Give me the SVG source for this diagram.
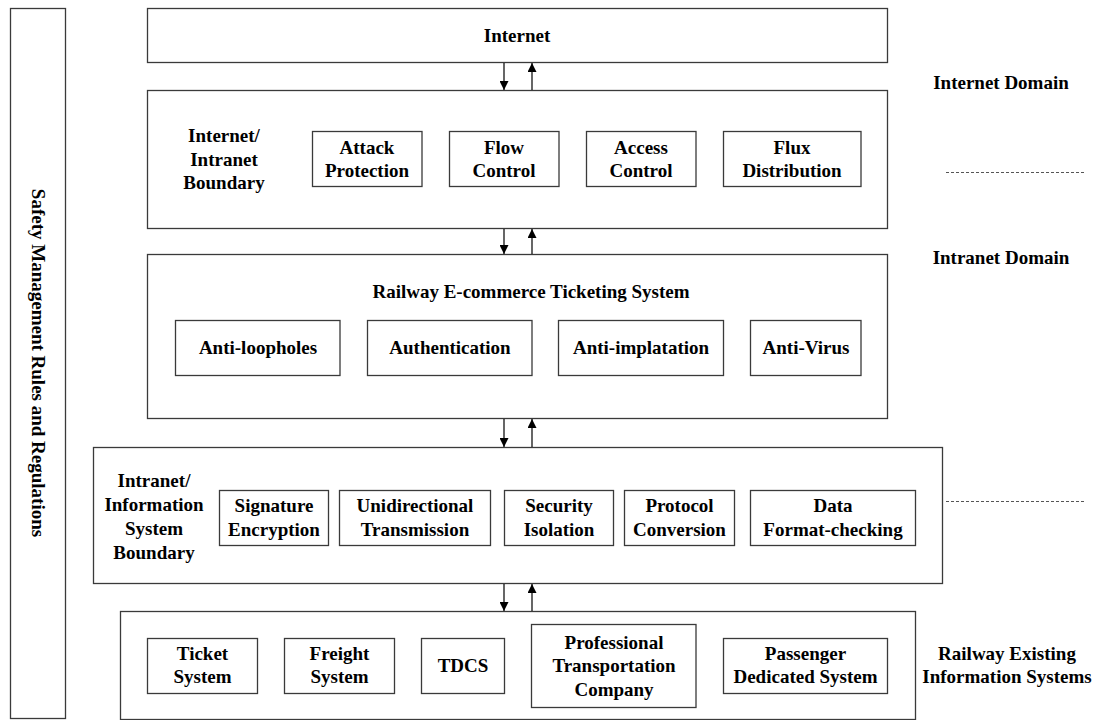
<svg xmlns="http://www.w3.org/2000/svg" width="1102" height="720" viewBox="0 0 1102 720">
<defs>
<style>
.box{fill:#fff;stroke:#3a3a3a;stroke-width:1.3}
.t{font-family:"Liberation Serif","Times New Roman",serif;font-weight:bold;font-size:19px;fill:#000;text-anchor:middle}
.conn{stroke:#000;stroke-width:1.2;fill:none}
.dash{stroke:#555;stroke-width:1;stroke-dasharray:3 2;fill:none}
</style>
<marker id="ah" viewBox="0 0 10 10" refX="10" refY="5" markerWidth="9" markerHeight="9" markerUnits="userSpaceOnUse" orient="auto">
<path d="M0,0 L10,5 L0,10 z" fill="#000"/>
</marker>
</defs>
<rect width="1102" height="720" fill="#fff"/>

<g id="safety">
<rect class="box" x="10.5" y="8.5" width="55" height="710" stroke="#555"/>
<text class="t" transform="translate(32,363) rotate(90)">Safety Management Rules and Regulations</text>
</g>

<g id="internet">
<rect class="box" x="147.5" y="8.5" width="740" height="54"/>
<text class="t" x="517" y="41.5">Internet</text>
</g>

<g id="boundary1">
<rect class="box" x="147.5" y="90.5" width="740" height="138"/>
<text class="t" x="224" y="142">Internet/</text>
<text class="t" x="224" y="165.5">Intranet</text>
<text class="t" x="224" y="189">Boundary</text>
</g>
<g id="attack-protection"><rect class="box" x="312.5" y="131.5" width="109.5" height="55"/><text class="t" x="367" y="153.5">Attack</text><text class="t" x="367" y="176.5">Protection</text></g>
<g id="flow-control"><rect class="box" x="449.5" y="131.5" width="109.5" height="55"/><text class="t" x="504" y="153.5">Flow</text><text class="t" x="504" y="176.5">Control</text></g>
<g id="access-control"><rect class="box" x="586.5" y="131.5" width="109.5" height="55"/><text class="t" x="641" y="153.5">Access</text><text class="t" x="641" y="176.5">Control</text></g>
<g id="flux-distribution"><rect class="box" x="723.5" y="131.5" width="137.5" height="55"/><text class="t" x="792" y="153.5">Flux</text><text class="t" x="792" y="176.5">Distribution</text></g>

<g id="ticketing">
<rect class="box" x="147.5" y="254.5" width="740" height="164"/>
<text class="t" x="531" y="297.5">Railway E-commerce Ticketing System</text>
</g>
<g id="anti-loopholes"><rect class="box" x="175.5" y="320.5" width="164.5" height="55"/><text class="t" x="258" y="354">Anti-loopholes</text></g>
<g id="authentication"><rect class="box" x="367.5" y="320.5" width="164.5" height="55"/><text class="t" x="450" y="354">Authentication</text></g>
<g id="anti-implatation"><rect class="box" x="558.5" y="320.5" width="165" height="55"/><text class="t" x="641" y="354">Anti-implatation</text></g>
<g id="anti-virus"><rect class="box" x="750.5" y="320.5" width="110.5" height="55"/><text class="t" x="806" y="354">Anti-Virus</text></g>

<g id="boundary2">
<rect class="box" x="93.5" y="447.5" width="849" height="136"/>
<text class="t" x="154" y="487">Intranet/</text>
<text class="t" x="154" y="511">Information</text>
<text class="t" x="154" y="535">System</text>
<text class="t" x="154" y="559">Boundary</text>
</g>
<g id="signature-encryption"><rect class="box" x="219.5" y="490.5" width="109" height="55"/><text class="t" x="274" y="512">Signature</text><text class="t" x="274" y="535.5">Encryption</text></g>
<g id="unidirectional-transmission"><rect class="box" x="339.5" y="490.5" width="151" height="55"/><text class="t" x="415" y="512">Unidirectional</text><text class="t" x="415" y="535.5">Transmission</text></g>
<g id="security-isolation"><rect class="box" x="504.5" y="490.5" width="109" height="55"/><text class="t" x="559" y="512">Security</text><text class="t" x="559" y="535.5">Isolation</text></g>
<g id="protocol-conversion"><rect class="box" x="624.5" y="490.5" width="110" height="55"/><text class="t" x="679.5" y="512">Protocol</text><text class="t" x="679.5" y="535.5">Conversion</text></g>
<g id="data-format-checking"><rect class="box" x="750.5" y="490.5" width="165" height="55"/><text class="t" x="833" y="512">Data</text><text class="t" x="833" y="535.5">Format-checking</text></g>

<g id="existing">
<rect class="box" x="120.5" y="611.5" width="795" height="108"/>
</g>
<g id="ticket-system"><rect class="box" x="147.5" y="638.5" width="110" height="55"/><text class="t" x="202.5" y="660">Ticket</text><text class="t" x="202.5" y="683">System</text></g>
<g id="freight-system"><rect class="box" x="284.5" y="638.5" width="110" height="55"/><text class="t" x="339.5" y="660">Freight</text><text class="t" x="339.5" y="683">System</text></g>
<g id="tdcs"><rect class="box" x="421.5" y="638.5" width="83" height="55"/><text class="t" x="463" y="672">TDCS</text></g>
<g id="professional"><rect class="box" x="531.5" y="624.5" width="164.5" height="83"/><text class="t" x="614" y="648.5">Professional</text><text class="t" x="614" y="672">Transportation</text><text class="t" x="614" y="695.5">Company</text></g>
<g id="passenger"><rect class="box" x="723.5" y="638.5" width="164" height="55"/><text class="t" x="805.5" y="660">Passenger</text><text class="t" x="805.5" y="683">Dedicated System</text></g>

<g id="domain-labels">
<text class="t" x="1001" y="88.5">Internet Domain</text>
<text class="t" x="1001" y="263.5">Intranet Domain</text>
<text class="t" x="1007" y="660">Railway Existing</text>
<text class="t" x="1007" y="683">Information Systems</text>
</g>

<g id="connectors">
<line class="conn" x1="504" y1="63" x2="504" y2="90" marker-end="url(#ah)"/>
<line class="conn" x1="532" y1="90" x2="532" y2="63" marker-end="url(#ah)"/>
<line class="conn" x1="504" y1="229" x2="504" y2="254" marker-end="url(#ah)"/>
<line class="conn" x1="532" y1="254" x2="532" y2="229" marker-end="url(#ah)"/>
<line class="conn" x1="504" y1="419" x2="504" y2="447" marker-end="url(#ah)"/>
<line class="conn" x1="532" y1="447" x2="532" y2="419" marker-end="url(#ah)"/>
<line class="conn" x1="504" y1="584" x2="504" y2="611" marker-end="url(#ah)"/>
<line class="conn" x1="532" y1="611" x2="532" y2="584" marker-end="url(#ah)"/>
<line class="dash" x1="946" y1="172.5" x2="1084" y2="172.5"/>
<line class="dash" x1="946" y1="501.5" x2="1084" y2="501.5"/>
</g>
</svg>
